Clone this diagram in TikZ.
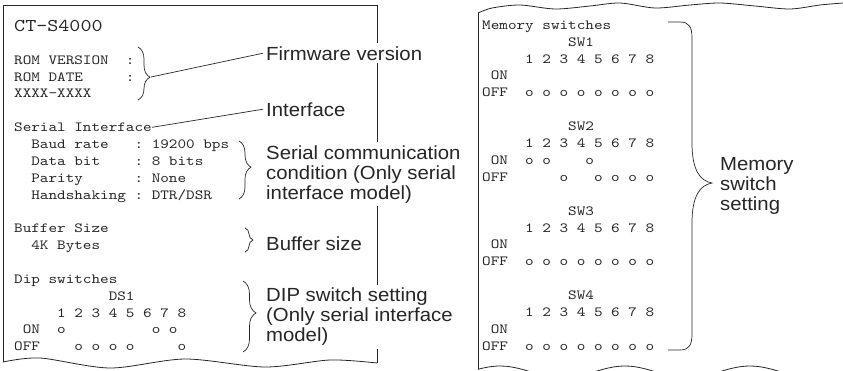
\documentclass[tikz,border=0pt]{standalone}
\usepackage{fontspec}
\usetikzlibrary{decorations.pathreplacing}
\newfontfamily\labelfont{Liberation Sans}[FakeStretch=1.07]
\newfontfamily\prtfont{lmmono10-regular.otf}[FakeStretch=1.17]

\tikzset{
  paper/.style={draw=black!85, line width=0.8pt},
  prt/.style={anchor=base west, inner sep=0pt, text=black!85, font=\prtfont\fontsize{14}{17}\selectfont},
  prtbig/.style={prt, font=\prtfont\fontsize{18}{20}\selectfont},
  lbl/.style={anchor=base west, fill=white, inner sep=3pt, align=left, text=black!85, font=\labelfont\fontsize{19}{20}\selectfont},
  curly/.style={decorate, decoration={brace, amplitude=#1}, line width=0.7pt, black!85},
  lead/.style={line width=0.7pt, black!85}
}

\begin{document}
\begin{tikzpicture}[x=1pt, y=-1pt]
	\useasboundingbox (0,0) rectangle (843,370);
	\clip (0,0) rectangle (843,370);

	%% left printout
	\draw[paper] (3,362) -- (3,5) -- (377,5) -- (377,363);
	\draw[paper] plot[smooth] coordinates {(3,362) (40,358) (110,368) (185,359) (265,367) (330,360) (377,363)};

	\node[prtbig] (model) at (14,31.5) {CT-S4000};
	\node[prt] (romver) at (14,64.2) {ROM~VERSION~~:};
	\node[prt] (romdate) at (14,81.1) {ROM~DATE~~~~~:};
	\node[prt] (romno) at (14,97.9) {XXXX-XXXX};
	\node[prt] (serif) at (14,131.6) {Serial~Interface};
	\node[prt] (baud) at (14,148.5) {~~Baud~rate~~~:~19200~bps};
	\node[prt] (databit) at (14,165.3) {~~Data~bit~~~~:~8~bits};
	\node[prt] (parity) at (14,182.2) {~~Parity~~~~~~:~None};
	\node[prt] (hshake) at (14,199) {~~Handshaking~:~DTR/DSR};
	\node[prt] (buf) at (14,232.7) {Buffer~Size};
	\node[prt] (bufval) at (14,249.6) {~~4K~Bytes};
	\node[prt] (dip) at (14,283.2) {Dip~switches};
	\node[prt] (dsname) at (14,300.1) {~~~~~~~~~~~DS1};
	\node[prt] (dsnum) at (14,317) {~~~~~1~2~3~4~5~6~7~8};
	\node[prt] (dson) at (14,333.8) {~ON~~o~~~~~~~~~~o~o};
	\node[prt] (dsoff) at (14,350.7) {OFF~~~~o~o~o~o~~~~~o};

	%% braces
	\draw[curly=12pt, decoration={aspect=0.57}] (138,47) -- (138,100);
	\coordinate (romtip) at (151,77);
	\draw[curly=12pt, decoration={aspect=0.45}] (239,141) -- (239,199);
	\draw[curly=8pt] (245,228) -- (245,252);
	\draw[curly=13pt, decoration={aspect=0.45}] (243,281) -- (243,352);

	% multi-line labels sit on the baseline of their last line
	\node[lbl] (fw) at (263,60) {Firmware version};
	\node[lbl] (iface) at (263,116) {Interface};
	\node[lbl] (sercond) at (263,199) {Serial communication\\condition (Only serial\\interface model)};
	\node[lbl] (bufsz) at (263,250) {Buffer size};
	\node[lbl] (dipset) at (263,341.7) {DIP switch setting\\(Only serial interface\\model)};

	\draw[lead] (romtip) -- (fw.west);
	\draw[lead] (serif.east) -- (iface.west);

	%% right printout
	\draw[paper] (478,369) -- (478,13);
	\draw[paper] plot[smooth] coordinates {(478,13) (492,8) (520,5) (555,9) (590,6) (620,3) (655,8) (690,5) (720,3) (755,6) (790,9) (820,5) (843,3)};
	\draw[paper] plot[domain=478:843, samples=80] (\x, {372-6*cos(2.88*(\x-500))});

	\node[prt] (memsw) at (482,29.2) {Memory~switches};
	\node[prt] (swa) at (482,46.1) {~~~~~~~~~~SW1};
	\node[prt] (swanum) at (482,63) {~~~~~1~2~3~4~5~6~7~8};
	\node[prt] (swaon) at (482,79.9) {~ON};
	\node[prt] (swaoff) at (482,96.8) {OFF~~o~o~o~o~o~o~o~o};
	\node[prt] (swb) at (482,130.6) {~~~~~~~~~~SW2};
	\node[prt] (swbnum) at (482,147.5) {~~~~~1~2~3~4~5~6~7~8};
	\node[prt] (swbon) at (482,164.4) {~ON~~o~o~~~~o};
	\node[prt] (swboff) at (482,181.3) {OFF~~~~~~o~~~o~o~o~o};
	\node[prt] (swc) at (482,215.1) {~~~~~~~~~~SW3};
	\node[prt] (swcnum) at (482,232) {~~~~~1~2~3~4~5~6~7~8};
	\node[prt] (swcon) at (482,248.9) {~ON};
	\node[prt] (swcoff) at (482,265.8) {OFF~~o~o~o~o~o~o~o~o};
	\node[prt] (swd) at (482,299.6) {~~~~~~~~~~SW4};
	\node[prt] (swdnum) at (482,316.5) {~~~~~1~2~3~4~5~6~7~8};
	\node[prt] (swdon) at (482,333.4) {~ON};
	\node[prt] (swdoff) at (482,350.3) {OFF~~o~o~o~o~o~o~o~o};

	\draw[lead] (668,22) -- (680,22) .. controls (689,22) and (692,27) .. (692,38) -- (692,143)
		.. controls (692,170) and (700,181) .. (712,183) .. controls (700,185) and (692,196) .. (692,223)
		-- (692,334) .. controls (692,345) and (689,350) .. (680,350) -- (668,350);
	\node[lbl] (memset) at (717,210) {Memory\\switch\\setting};
\end{tikzpicture}
\end{document}
